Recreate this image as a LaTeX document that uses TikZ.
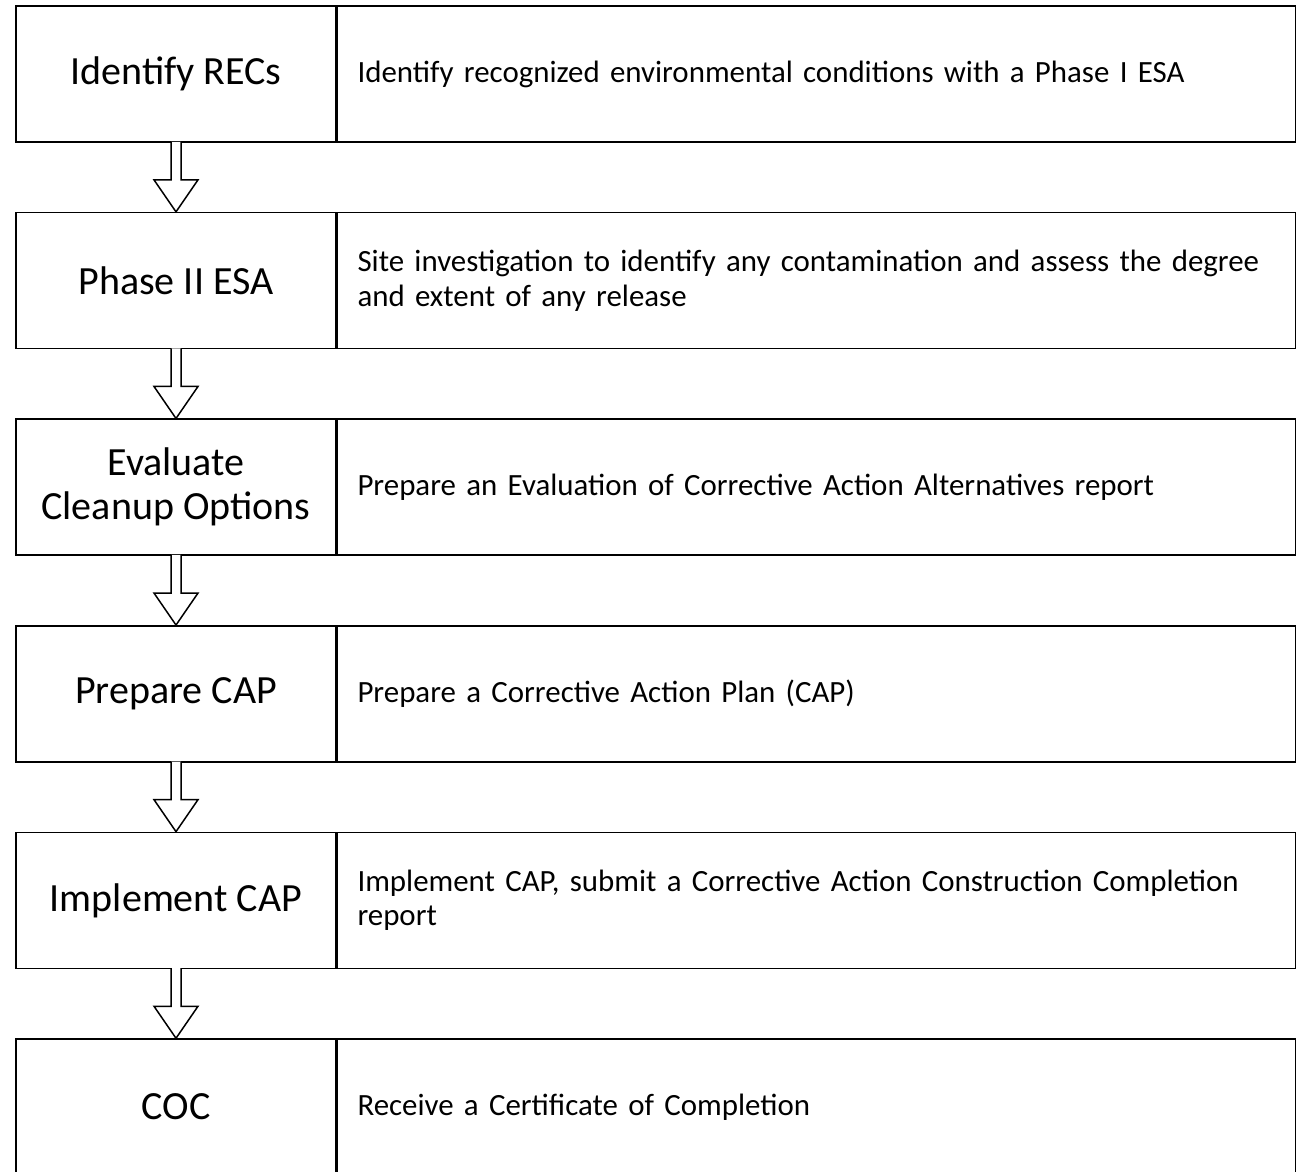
\documentclass[tikz,border=0pt]{standalone}
\usepackage{fontspec}
\setmainfont{Carlito}
\begin{document}
\begin{tikzpicture}[x=1pt,y=-1pt,line width=1.5pt,
    stage/.style={draw,minimum width=320pt,minimum height=136pt,align=center,
      font=\fontsize{40}{44}\selectfont},
    note/.style={draw,anchor=west,minimum height=136pt,text width=918pt,
      inner xsep=20pt,align=left,font=\fontsize{30.9}{34.5}\selectfont},
    hollow/.style={draw,fill=white,line join=miter}]
      \pgfmathsetmacro{\h}{206.6}
      \pgfmathsetmacro{\x}{176}
      \useasboundingbox (0,0) rectangle (1304,1171);

      \node[stage] (recs) at (\x,74) {Identify RECs};
      \node[note] (recsN) at (recs.east) {Identify recognized environmental conditions with a Phase I ESA};

      \node[stage] (esa) at (\x,74 + \h) {Phase II ESA};
      \node[note] (esaN) at (esa.east) {Site investigation to identify any contamination and assess the degree\\and extent of any release};

      \node[stage] (eval) at (\x,74 + \h * 2) {Evaluate\\Cleanup Options};
      \node[note] (evalN) at (eval.east) {Prepare an Evaluation of Corrective Action Alternatives report};

      \node[stage] (cap) at (\x,74 + \h * 3) {Prepare CAP};
      \node[note] (capN) at (cap.east) {Prepare a Corrective Action Plan (CAP)};

      \node[stage] (impl) at (\x,74 + \h * 4) {Implement CAP};
      \node[note] (implN) at (impl.east) {Implement CAP, submit a Corrective Action Construction Completion\\report};

      \node[stage] (coc) at (\x,74 + \h * 5) {COC};
      \node[note] (cocN) at (coc.east) {Receive a Certificate of Completion};

      % hollow block arrows between the stages
      \path[hollow] ([xshift=-5pt,yshift=1pt]recs.south) -- ([xshift=-5pt,yshift=32pt]esa.north) -- ([xshift=-22pt,yshift=32pt]esa.north) -- (esa.north) -- ([xshift=22pt,yshift=32pt]esa.north) -- ([xshift=5pt,yshift=32pt]esa.north) -- ([xshift=5pt,yshift=1pt]recs.south);
      \path[hollow] ([xshift=-5pt,yshift=1pt]esa.south) -- ([xshift=-5pt,yshift=32pt]eval.north) -- ([xshift=-22pt,yshift=32pt]eval.north) -- (eval.north) -- ([xshift=22pt,yshift=32pt]eval.north) -- ([xshift=5pt,yshift=32pt]eval.north) -- ([xshift=5pt,yshift=1pt]esa.south);
      \path[hollow] ([xshift=-5pt,yshift=1pt]eval.south) -- ([xshift=-5pt,yshift=32pt]cap.north) -- ([xshift=-22pt,yshift=32pt]cap.north) -- (cap.north) -- ([xshift=22pt,yshift=32pt]cap.north) -- ([xshift=5pt,yshift=32pt]cap.north) -- ([xshift=5pt,yshift=1pt]eval.south);
      \path[hollow] ([xshift=-5pt,yshift=1pt]cap.south) -- ([xshift=-5pt,yshift=32pt]impl.north) -- ([xshift=-22pt,yshift=32pt]impl.north) -- (impl.north) -- ([xshift=22pt,yshift=32pt]impl.north) -- ([xshift=5pt,yshift=32pt]impl.north) -- ([xshift=5pt,yshift=1pt]cap.south);
      \path[hollow] ([xshift=-5pt,yshift=1pt]impl.south) -- ([xshift=-5pt,yshift=32pt]coc.north) -- ([xshift=-22pt,yshift=32pt]coc.north) -- (coc.north) -- ([xshift=22pt,yshift=32pt]coc.north) -- ([xshift=5pt,yshift=32pt]coc.north) -- ([xshift=5pt,yshift=1pt]impl.south);
    \end{tikzpicture}
\end{document}
